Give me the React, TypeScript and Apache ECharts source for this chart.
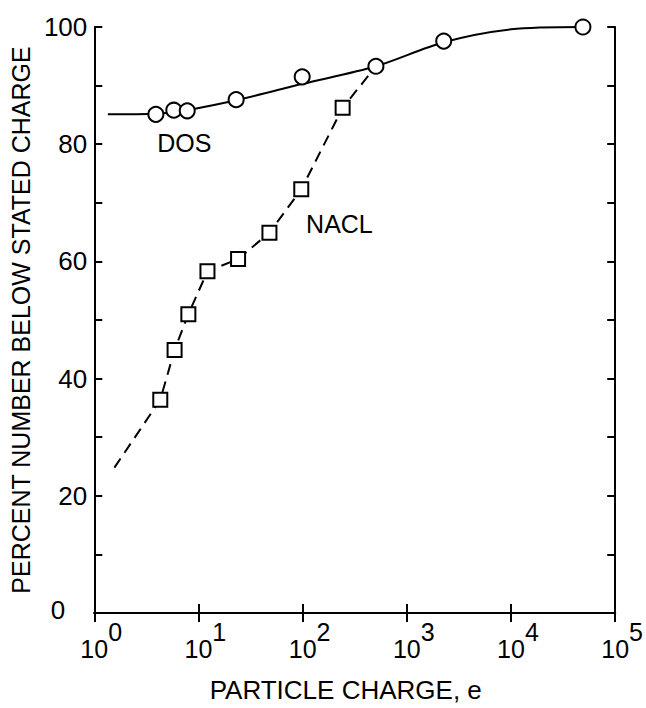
import React, { useEffect, useRef } from "react";
import * as echarts from "echarts";

// ---- data ----
// DOS measured points (particle charge in e, percent below)
const dosCharge = [3.9, 5.8, 7.8, 23, 99, 505, 2260, 49000];
const dosPercent = [85.1, 85.8, 85.7, 87.6, 91.5, 93.3, 97.6, 100];
// DOS smooth fitted curve
const dosCurveCharge = [1.35, 3.9, 5.8, 7.8, 23, 100, 505, 2260, 10000, 49000];
const dosCurvePercent = [85.1, 85.2, 85.5, 85.8, 87.5, 90.3, 93.3, 97.4, 99.6, 100];
// NACL measured points
const naclCharge = [4.3, 5.9, 8.0, 12.2, 24, 48, 97, 242];
const naclPercent = [36.4, 44.9, 51.0, 58.3, 60.4, 64.9, 72.3, 86.2];
// NACL dashed curve
const naclCurveCharge = [1.56, 4.3, 5.9, 8.0, 12.2, 24, 48, 97, 242, 505];
const naclCurvePercent = [24.8, 36.4, 44.9, 51.0, 58.3, 60.4, 64.9, 72.3, 86.2, 93.3];
// series labels (position in data units)
const labelNames = ["DOS", "NACL"];
const labelCharge = [7.4, 228];
const labelPercent = [80.1, 66.3];

const xMin = 1;
const xMax = 100000;
const yMin = 0;
const yMax = 100;
const yTickStep = 10;
const yLabelStep = 20;

const FONT = "'Liberation Sans', Arial, sans-serif";

const pairs = (xs: number[], ys: number[]) => xs.map((x, i) => [x, ys[i]]);

export default function App() {
  const ref = useRef<HTMLDivElement>(null);

  useEffect(() => {
    if (!ref.current) return;
    const chart = echarts.init(ref.current, null, { renderer: "svg" });
    const black = "#000";
    const option: any = {
      animation: false,
      backgroundColor: "#fff",
      grid: { left: 93, right: 26, top: 27, bottom: 93, containLabel: false },
      xAxis: [
        {
          type: "log",
          logBase: 10,
          min: xMin,
          max: xMax,
          splitNumber: 5,
          position: "bottom",
          name: "PARTICLE CHARGE, e",
          nameLocation: "middle",
          nameGap: 64,
          nameTextStyle: {
            fontFamily: FONT,
            fontSize: 26,
            color: black,
            padding: [0, 18, 0, 0],
          },
          axisLine: { show: true, lineStyle: { color: black, width: 2 } },
          axisTick: { show: true, inside: true, length: 9, lineStyle: { color: black, width: 2 } },
          splitLine: { show: false },
          minorTick: { show: false },
          axisLabel: {
            margin: 6,
            formatter: (v: number) => {
              const e = Math.round(Math.log10(v));
              return `{h|${e}}{b|10}{e|${e}}`;
            },
            rich: {
              b: { fontFamily: FONT, fontSize: 25, color: black },
              e: { fontFamily: FONT, fontSize: 25, color: black, padding: [0, 0, 34, 0] },
              h: { fontFamily: FONT, fontSize: 25, color: "transparent", padding: [0, 0, 34, 0] },
            },
          },
        },
        {
          type: "log",
          logBase: 10,
          min: xMin,
          max: xMax,
          splitNumber: 5,
          position: "top",
          axisLine: { show: true, lineStyle: { color: black, width: 2 } },
          axisTick: { show: true, inside: true, length: 9, lineStyle: { color: black, width: 2 } },
          axisLabel: { show: false },
          splitLine: { show: false },
        },
      ],
      yAxis: [
        {
          type: "value",
          min: yMin,
          max: yMax,
          interval: yTickStep,
          position: "left",
          name: "PERCENT NUMBER BELOW STATED CHARGE",
          nameLocation: "middle",
          nameRotate: 90,
          nameGap: 56,
          nameTextStyle: { fontFamily: FONT, fontSize: 25, color: black },
          axisLine: { show: true, lineStyle: { color: black, width: 2 } },
          axisTick: { show: true, inside: true, length: 8, lineStyle: { color: black, width: 2 } },
          splitLine: { show: false },
          axisLabel: {
            margin: 7,
            fontFamily: FONT,
            fontSize: 26,
            color: black,
            formatter: (v: number) =>
              v === 0 ? "{z|0}" : v % yLabelStep === 0 ? String(v) : "",
            rich: {
              z: { fontFamily: FONT, fontSize: 26, color: black, padding: [0, 22, 6, 0] },
            },
          },
        },
        {
          type: "value",
          min: yMin,
          max: yMax,
          interval: yTickStep,
          position: "right",
          axisLine: { show: true, lineStyle: { color: black, width: 2 } },
          axisTick: { show: true, inside: true, length: 8, lineStyle: { color: black, width: 2 } },
          axisLabel: { show: false },
          splitLine: { show: false },
        },
      ],
      series: [
        {
          name: "DOS curve",
          type: "line",
          data: pairs(dosCurveCharge, dosCurvePercent),
          smooth: 0.3,
          showSymbol: false,
          lineStyle: { color: black, width: 2 },
          z: 2,
        },
        {
          name: "NACL curve",
          type: "line",
          data: pairs(naclCurveCharge, naclCurvePercent),
          showSymbol: false,
          lineStyle: { color: black, width: 2, type: [11, 7] },
          z: 2,
        },
        {
          name: "DOS",
          type: "scatter",
          data: pairs(dosCharge, dosPercent),
          symbol: "circle",
          symbolSize: 15,
          itemStyle: { color: "#fff", borderColor: black, borderWidth: 2, opacity: 1 },
          z: 3,
        },
        {
          name: "NACL",
          type: "scatter",
          data: pairs(naclCharge, naclPercent),
          symbol: "rect",
          symbolSize: 14,
          itemStyle: { color: "#fff", borderColor: black, borderWidth: 2, opacity: 1 },
          z: 3,
        },
        {
          name: "labels",
          type: "scatter",
          symbolSize: 1,
          itemStyle: { color: "transparent" },
          data: labelNames.map((n, i) => ({ name: n, value: [labelCharge[i], labelPercent[i]] })),
          label: {
            show: true,
            position: [0, 0],
            align: "center",
            verticalAlign: "middle",
            formatter: (p: any) => p.name,
            fontFamily: FONT,
            fontSize: 25,
            color: black,
            textBorderWidth: 0,
            opacity: 1,
          },
          silent: true,
          z: 4,
        },
      ],
    };
    chart.setOption(option);
    return () => chart.dispose();
  }, []);

  return (
    <div
      ref={ref}
      style={{ position: "fixed", left: 0, top: 0, width: 646, height: 708, background: "#fff" }}
    />
  );
}
